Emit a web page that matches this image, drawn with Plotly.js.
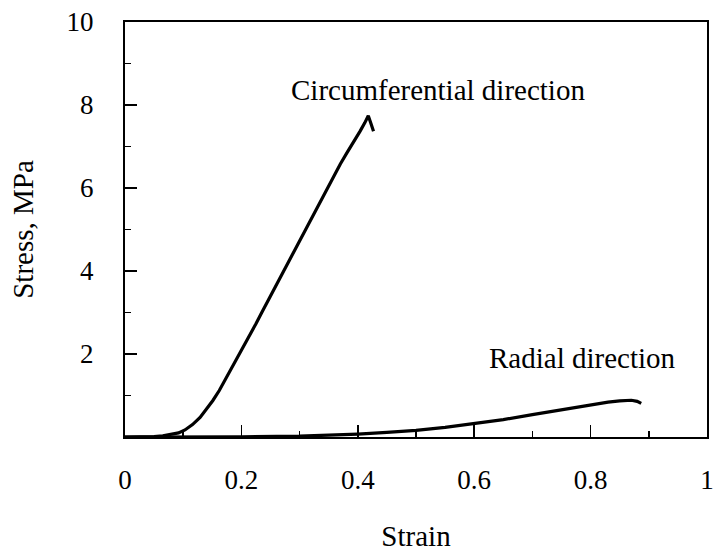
<!DOCTYPE html>
<html>
<head>
<meta charset="utf-8">
<script src="https://cdn.plot.ly/plotly-3.0.1.min.js"></script>
<style>html,body{margin:0;padding:0;background:#fff;}#chart{width:714px;height:554px;}</style>
</head>
<body>
<div id="chart"></div>
<script>
// Circumferential direction (strain, stress MPa)
const circStrain = [0, 0.03, 0.05, 0.065, 0.08, 0.092, 0.103, 0.116, 0.129, 0.14, 0.151, 0.162, 0.172, 0.182, 0.192, 0.204, 0.215, 0.225, 0.235, 0.246, 0.258, 0.272, 0.287, 0.301, 0.315, 0.329, 0.344, 0.358, 0.37, 0.381, 0.393, 0.404, 0.412, 0.418, 0.422, 0.427];
const circStress = [0, 0, 0.01, 0.03, 0.06, 0.1, 0.17, 0.3, 0.47, 0.66, 0.88, 1.12, 1.37, 1.63, 1.9, 2.19, 2.46, 2.73, 3.0, 3.29, 3.61, 3.98, 4.38, 4.75, 5.12, 5.49, 5.9, 6.28, 6.58, 6.84, 7.1, 7.37, 7.57, 7.74, 7.58, 7.37];
// Radial direction
const radStrain = [0, 0.1, 0.2, 0.3, 0.35, 0.4, 0.45, 0.5, 0.55, 0.6, 0.65, 0.7, 0.75, 0.8, 0.83, 0.85, 0.87, 0.88, 0.887];
const radStress = [0, 0, 0.005, 0.02, 0.04, 0.07, 0.11, 0.16, 0.23, 0.32, 0.42, 0.54, 0.66, 0.78, 0.84, 0.87, 0.885, 0.86, 0.81];
// Labels
const seriesLabels = ["Circumferential direction", "Radial direction"];
const xTickVals = [0, 0.2, 0.4, 0.6, 0.8, 1];
const yTickVals = [2, 4, 6, 8, 10];

const SERIF = "Liberation Serif, serif";
function mkFont(size) { return {family: SERIF, size: size, color: "#000000"}; }

const traces = [
  {x: circStrain, y: circStress, mode: "lines", name: seriesLabels[0], line: {color: "#000", width: 3.2}},
  {x: radStrain, y: radStress, mode: "lines", name: seriesLabels[1], line: {color: "#000", width: 3.2}}
];

const layout = {
  width: 714, height: 554,
  margin: {l: 125, r: 7, t: 22, b: 117},
  paper_bgcolor: "#fff", plot_bgcolor: "#fff",
  showlegend: false,
  font: mkFont(27),
  xaxis: {
    range: [0, 1], tickvals: xTickVals, ticks: "inside", ticklen: 12, tickwidth: 1.5, tickcolor: "#000",
    minor: {tickvals: [0.1, 0.3, 0.5, 0.7, 0.9], ticks: "inside", ticklen: 6, tickwidth: 1.5, tickcolor: "#000"},
    showline: true, mirror: true, linecolor: "#000", linewidth: 2, showgrid: false, zeroline: false,
    ticklabelstandoff: 18, tickfont: mkFont(27),
    title: {text: "Strain", font: mkFont(29), standoff: 31}
  },
  yaxis: {
    range: [0, 10], tickvals: yTickVals, ticks: "inside", ticklen: 12, tickwidth: 1.5, tickcolor: "#000",
    minor: {tickvals: [1, 3, 5, 7, 9], ticks: "inside", ticklen: 6, tickwidth: 1.5, tickcolor: "#000"},
    showline: true, mirror: true, linecolor: "#000", linewidth: 2, showgrid: false, zeroline: false,
    ticklabelstandoff: 24, tickfont: mkFont(27),
    title: {text: "Stress, MPa", font: mkFont(29), standoff: 24}
  },
  annotations: [
    {x: 0.537, y: 8.35, xref: "x", yref: "y", text: seriesLabels[0], showarrow: false, font: mkFont(29), xanchor: "center", yanchor: "middle"},
    {x: 0.786, y: 1.9, xref: "x", yref: "y", text: seriesLabels[1], showarrow: false, font: mkFont(29), xanchor: "center", yanchor: "middle"}
  ]
};

Plotly.newPlot("chart", traces, layout, {displayModeBar: false, staticPlot: true});
</script>
</body>
</html>
